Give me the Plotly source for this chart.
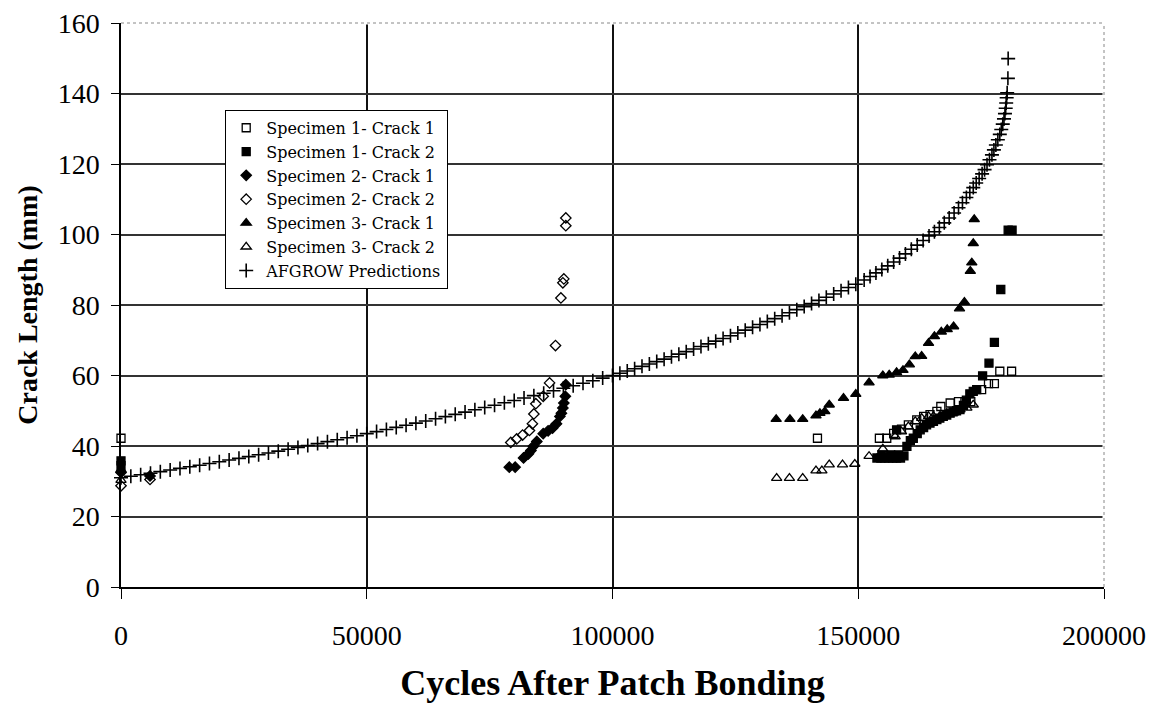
import plotly.graph_objects as go

# ---------------- data ----------------
afgrow_cycles = [
    0, 2000, 4000, 6000, 8000, 10000, 12000, 14000, 16000, 18000, 20000,
    22000, 24000, 26000, 28000, 30000, 32000, 34000, 36000, 38000, 40000,
    42000, 44000, 46000, 48000, 50000, 52000, 54000, 56000, 58000, 60000,
    62000, 64000, 66000, 68000, 70000, 72000, 74000, 76000, 78000, 80000,
    82000, 84000, 86000, 88000, 90000, 92000, 94000, 96000, 98000, 100000,
    101500, 103000, 104500, 106000, 107500, 109000, 110500, 112000, 113500,
    115000, 116500, 118000, 119500, 121000, 122500, 124000, 125500, 127000,
    128500, 130000, 131500, 133000, 134500, 136000, 137500, 139000, 140500,
    142000, 143500, 145000, 146500, 148000, 149500,
    151200, 152400, 153600, 154800, 156000, 157200, 158400, 159600, 160800,
    162000, 163200, 164400, 165500, 166500, 167500, 168500, 169500, 170400,
    171200, 172000, 172700, 173400, 174000, 174600, 175200, 175700, 176200,
    176700, 177200, 177600, 178000, 178400, 178800, 179100, 179400, 179650,
    179850, 180000, 180100, 180200, 180300, 180450, 180500,
]
afgrow_length = [
    31.00, 31.42, 31.85, 32.29, 32.73, 33.18, 33.64, 34.10, 34.56, 35.04, 35.52,
    36.01, 36.50, 37.00, 37.51, 38.02, 38.54, 39.06, 39.60, 40.14, 40.68,
    41.23, 41.79, 42.35, 42.92, 43.50, 44.08, 44.67, 45.27, 45.87, 46.48,
    47.10, 47.72, 48.34, 48.98, 49.62, 50.27, 50.92, 51.58, 52.25, 52.92,
    53.60, 54.28, 54.98, 55.68, 56.38, 57.09, 57.81, 58.53, 59.26, 60.00,
    60.63, 61.28, 61.93, 62.59, 63.27, 63.95, 64.64, 65.34, 66.05,
    66.77, 67.50, 68.23, 68.98, 69.74, 70.50, 71.28, 72.06, 72.86,
    73.66, 74.47, 75.29, 76.13, 76.97, 77.82, 78.68, 79.54, 80.42,
    81.31, 82.21, 83.11, 84.03, 84.95, 85.89,
    87.1, 88.1, 89.1, 90.1, 91.1, 92.2, 93.3, 94.5, 95.8,
    97.0, 98.3, 99.6, 100.8, 102.0, 103.3, 104.7, 106.1, 107.6,
    109.0, 110.5, 111.9, 113.3, 114.6, 115.9, 117.2, 118.4, 119.8,
    121.2, 122.6, 124.0, 125.4, 126.9, 128.4, 129.8, 131.3, 132.8,
    134.3, 135.8, 137.3, 138.8, 140.2, 144.3, 149.9,
]

s1c1_cycles = [0, 141700, 154300, 155800, 157200, 158800, 160200, 161900, 163300,
               164600, 166000, 166800, 168700, 170400, 171700, 172900, 175100,
               176500, 177700, 178800, 181200]
s1c1_length = [42.2, 42.2, 42.2, 42.2, 43.6, 44.8, 46.0, 47.4, 48.4,
               48.9, 49.8, 51.2, 52.2, 52.6, 52.6, 52.6, 56.0,
               57.7, 57.7, 61.2, 61.2]

s1c2_cycles = [0, 0, 153800, 154600, 155400, 156200, 157000, 157800, 158600, 159300,
               154800, 156600, 158200, 157800, 159900, 160600, 161200, 162000,
               162600, 163300, 163900, 164600, 165300, 166000, 166600, 167300,
               168000, 168700, 169300, 170000, 170700, 171400, 172000, 172700,
               173400, 174100, 175300, 176600, 177700, 179000, 180500, 181300]
s1c2_length = [35.8, 34.4, 36.6, 36.6, 36.6, 36.6, 36.6, 36.6, 36.6, 37.2,
               37.5, 37.5, 37.5, 44.6, 39.9, 41.5, 42.2, 43.5,
               44.6, 45.2, 46.0, 46.5, 47.0, 47.5, 47.9, 48.4,
               48.8, 49.3, 49.7, 50.0, 50.3, 51.5, 53.0, 54.8,
               55.5, 56.0, 59.9, 63.5, 69.4, 84.4, 101.2, 101.2]

s2c1_cycles = [0, 5900, 79000, 80200, 81900, 82900, 83400, 83900, 84600, 85900,
               86900, 87800, 88600, 89300, 89600, 89900, 90100, 90400, 90500]
s2c1_length = [32.5, 31.5, 34.0, 34.0, 36.6, 37.8, 38.7, 39.9, 41.3, 43.5,
               44.3, 45.1, 46.3, 48.4, 49.3, 50.8, 52.2, 54.1, 57.4]

s2c2_cycles = [0, 5900, 79300, 80500, 81700, 83100, 83700, 84000, 84400, 85900,
               87200, 88400, 89500, 89900, 90100, 90500, 90500]
s2c2_length = [28.7, 30.5, 41.0, 42.0, 43.1, 44.4, 46.3, 49.1, 52.0, 54.1,
               57.9, 68.5, 82.0, 86.3, 87.4, 102.5, 104.7]

s3c1_cycles = [0, 133300, 136100, 138700, 141400, 142200, 143200, 144100, 147000,
               149500, 152200, 155000, 156300, 157800, 159100, 160400, 161600,
               162900, 164300, 165500, 166900, 168100, 169400, 170600, 171600,
               172800, 173100, 173400, 173600]
s3c1_length = [33.3, 47.6, 47.6, 47.6, 48.6, 49.3, 49.8, 51.7, 53.6,
               54.7, 58.0, 60.0, 60.2, 60.9, 61.5, 63.1, 65.4,
               65.5, 69.2, 71.1, 72.4, 73.1, 73.9, 79.0, 80.8,
               89.6, 92.0, 97.5, 104.3]

s3c2_cycles = [0, 133400, 136000, 138700, 141400, 142600, 144100, 146800, 149300,
               152200, 155000, 157500, 158800, 160200, 161600, 162900, 164300,
               165300, 166600, 168000, 169400, 170700, 172100, 173400]
s3c2_length = [30.3, 30.9, 30.9, 30.9, 33.0, 33.0, 34.7, 34.7, 34.9,
               37.1, 39.2, 42.7, 44.1, 45.5, 47.0, 47.9, 48.4,
               48.4, 48.4, 49.3, 49.5, 50.3, 50.8, 51.7]

x_ticks = [0, 50000, 100000, 150000, 200000]
x_tick_labels = ["0", "50000", "100000", "150000", "200000"]
y_ticks = [0, 20, 40, 60, 80, 100, 120, 140, 160]

# ---------------- figure ----------------
FONT = "Liberation Serif, Times New Roman, serif"
LEGEND_FONT = "DejaVu Serif, Liberation Serif, serif"
fig = go.Figure()

fig.add_trace(go.Scatter(
    x=afgrow_cycles, y=afgrow_length, mode="markers", name="AFGROW Predictions",
    marker=dict(symbol="cross-thin", size=10, line=dict(color="black", width=1.6)),
    legendrank=7, cliponaxis=False))

specs = [
    ("Specimen 1- Crack 1", s1c1_cycles, s1c1_length, "square-open", 8, 1),
    ("Specimen 1- Crack 2", s1c2_cycles, s1c2_length, "square", 8, 2),
    ("Specimen 2- Crack 1", s2c1_cycles, s2c1_length, "diamond", 8, 3),
    ("Specimen 2- Crack 2", s2c2_cycles, s2c2_length, "diamond-open", 8, 4),
    ("Specimen 3- Crack 1", s3c1_cycles, s3c1_length, "triangle-up", 9, 5),
    ("Specimen 3- Crack 2", s3c2_cycles, s3c2_length, "triangle-up-open", 9, 6),
]
for name, xs, ys, sym, sz, rank in specs:
    fig.add_trace(go.Scatter(
        x=xs, y=ys, mode="markers", name=name,
        marker=dict(symbol=sym, size=sz, color="black",
                    line=dict(color="black", width=1.3)),
        legendrank=rank, cliponaxis=False))

# the page body adds an 8px offset, so the figure is sized/placed to compensate
fig.update_layout(
    width=1148, height=695,
    margin=dict(l=113, r=52, t=15, b=116),
    plot_bgcolor="white", paper_bgcolor="white",
    font=dict(family=FONT, color="black"),
    showlegend=True,
    legend=dict(x=0.106, y=0.846, xanchor="left", yanchor="top",
                bgcolor="white", bordercolor="black", borderwidth=1,
                font=dict(family=LEGEND_FONT, size=16, color="black"),
                tracegroupgap=0, itemsizing="trace"),
)

fig.update_xaxes(
    range=[0, 200000], tickvals=x_ticks, ticktext=x_tick_labels,
    automargin=False, ticklabeloverflow="allow",
    showgrid=True, gridcolor="#111111", gridwidth=1.5,
    zeroline=False, showline=True, linecolor="black", linewidth=1.5,
    ticks="outside", ticklen=10, tickwidth=1.2, tickcolor="black",
    tickfont=dict(family=FONT, size=28, color="black"),
    ticklabelstandoff=13,
    title=dict(text="<b>Cycles After Patch Bonding</b>",
               font=dict(family=FONT, size=36, color="black"), standoff=22),
)
fig.update_yaxes(
    range=[0, 160], tickvals=y_ticks,
    automargin=False, ticklabeloverflow="allow",
    showgrid=True, gridcolor="#333333", gridwidth=1.5,
    zeroline=False, showline=True, linecolor="black", linewidth=1.5,
    ticks="outside", ticklen=8, tickwidth=1.2, tickcolor="black",
    tickfont=dict(family=FONT, size=28, color="black"),
    ticklabelstandoff=6,
    title=dict(text="<b>Crack Length (mm)</b>",
               font=dict(family=FONT, size=28, color="black"), standoff=12),
)

# light dotted frame on top and right (as in the reference)
for x0, y0, x1, y1 in [(0, 1, 1, 1), (1, 0, 1, 1)]:
    fig.add_shape(type="line", xref="paper", yref="paper", x0=x0, y0=y0, x1=x1, y1=y1,
                  line=dict(color="white", width=3), layer="above")
    fig.add_shape(type="line", xref="paper", yref="paper", x0=x0, y0=y0, x1=x1, y1=y1,
                  line=dict(color="#888888", width=1, dash="dot"), layer="above")

fig.write_html("out.html")
